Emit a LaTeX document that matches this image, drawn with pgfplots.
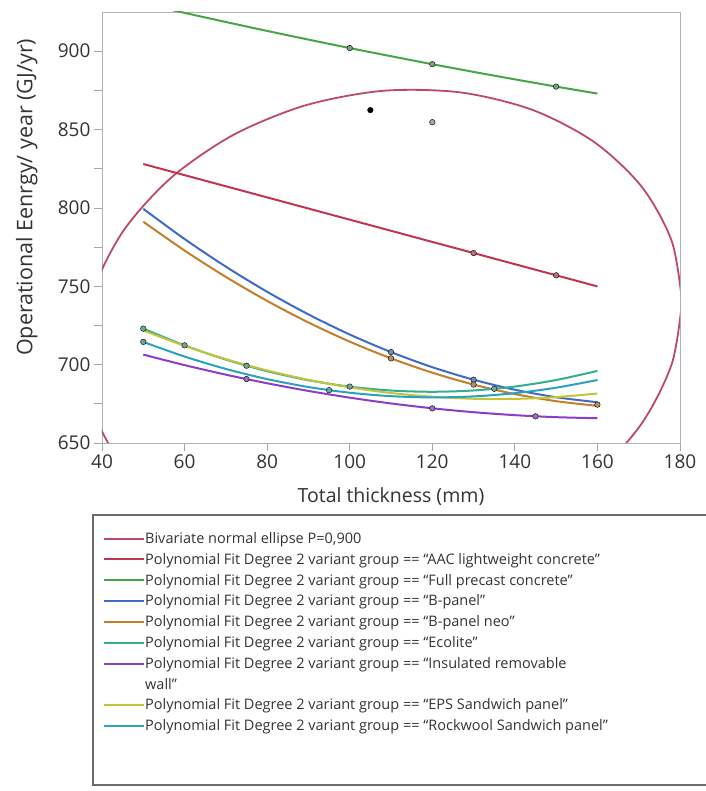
\documentclass[border=0pt]{standalone}
\usepackage{fontspec}
\setmainfont{Open Sans}
\usepackage{pgfplots}
\pgfplotsset{compat=1.18}
\definecolor{ellcol}{HTML}{BC4A64}
\definecolor{aaccol}{HTML}{C23452}
\definecolor{fullcol}{HTML}{46A546}
\definecolor{bpcol}{HTML}{3F6BC4}
\definecolor{bpncol}{HTML}{C47F2B}
\definecolor{ecocol}{HTML}{33AE8E}
\definecolor{inscol}{HTML}{8B3DC9}
\definecolor{epscol}{HTML}{C4C43A}
\definecolor{rockcol}{HTML}{2AA2BE}
\definecolor{txtcol}{HTML}{333333}
\pgfplotsset{
  dmark/.style={forget plot, only marks, mark=*, mark size=2.8pt,
    mark options={draw=none, fill=#1}},
}
\begin{document}
\begin{tikzpicture}
\path[use as bounding box] (-102pt,-348pt) rectangle (603pt,443pt);
\begin{axis}[
  at={(0pt,0pt)}, anchor=south west,
  scale only axis, width=578pt, height=431pt,
  xmin=40, xmax=180, ymin=650, ymax=925,
  xtick={40,60,...,180}, ytick={650,700,...,900},
  minor y tick num=1,
  xtick pos=bottom, ytick pos=left,
  tick align=outside, major tick length=8pt, minor tick length=8pt,
  every tick/.style={color=gray!70, line width=0.8pt},
  axis line style={color=gray!60, line width=0.8pt},
  /pgf/number format/assume math mode=true,
  ticklabel style={font=\fontsize{19}{21}\selectfont, text=txtcol},
  xlabel={Total thickness (mm)},
  ylabel={Operational Eenrgy/ year (GJ/yr)},
  label style={font=\fontsize{19.5}{21}\selectfont, text=txtcol},
  xlabel style={yshift=-12pt},
  ylabel style={at={(axis description cs:-0.13,0.57)}, anchor=center, font=\fontsize{21.5}{23}\selectfont},
  legend cell align=left,
  legend style={at={(axis description cs:0.0017,-0.207)}, anchor=north west,
    draw=none, fill=none, font=\fontsize{14.5}{16}\selectfont, text=txtcol,
    row sep=8.3pt, column sep=0pt, inner sep=0pt,
    nodes={inner sep=0pt}},
  legend image code/.code={\draw[#1,line width=1.8pt] (0pt,0pt) -- (27pt,0pt); \path (0pt,0pt) -- (40pt,0pt);},
]
% Bivariate normal ellipse P=0.900
\addplot[ellcol, smooth, line width=1.8pt] coordinates {
(180.50,740.15) (178.03,778.58) (170.79,813.30) (159.26,841.94) (144.25,862.55)
(126.76,873.71) (108.00,874.70) (89.24,865.41) (71.75,846.49) (56.74,819.24)
(45.21,785.50) (37.97,747.58) (35.50,708.05) (37.97,669.62) (45.21,634.90)
(56.74,606.26) (71.75,585.65) (89.24,574.49) (108.00,573.50) (126.76,582.79)
(144.25,601.71) (159.26,628.96) (170.79,662.70) (178.03,700.62) (180.50,740.15)};
\addlegendentry{Bivariate normal ellipse P=0,900}
% AAC lightweight concrete
\addplot[aaccol, line width=2pt] coordinates {(50,828.0) (80,806.7) (110,785.4) (130,771.2) (150,757.0) (160,749.9)};
\addlegendentry{Polynomial Fit Degree 2 variant group == “AAC lightweight concrete”}
% Full precast concrete
\addplot[fullcol, smooth, line width=2pt] coordinates {(50,930.44) (60,924.44) (70,918.61) (80,912.92) (90,907.38) (100,902.0)
(110,896.78) (120,891.7) (130,886.78) (140,882.02) (150,877.4) (160,872.94)};
\addlegendentry{Polynomial Fit Degree 2 variant group == “Full precast concrete”}
% B-panel
\addplot[bpcol, smooth, line width=2pt] coordinates {(50,799.4) (60,780.16) (70,762.51) (80,746.48) (90,732.04) (100,719.22)
(110,708.0) (120,698.38) (130,690.38) (140,683.98) (150,679.19) (160,676.0)};
\addlegendentry{Polynomial Fit Degree 2 variant group == “B-panel”}
% B-panel neo
\addplot[bpncol, smooth, line width=2pt] coordinates {(50,791.18) (60,772.8) (70,755.96) (80,740.66) (90,726.9) (100,714.68)
(110,704.0) (120,694.86) (130,687.26) (140,681.2) (150,676.68) (160,673.7)};
\addlegendentry{Polynomial Fit Degree 2 variant group == “B-panel neo”}
% Ecolite
\addplot[ecocol, smooth, line width=2pt] coordinates {(50,722.99) (60,712.28) (70,703.21) (80,695.8) (90,690.04) (100,685.94)
(110,683.48) (120,682.68) (130,683.52) (140,686.03) (150,690.18) (160,695.99)};
\addlegendentry{Polynomial Fit Degree 2 variant group == “Ecolite”}
% Insulated removable wall
\addplot[inscol, smooth, line width=2pt] coordinates {(50,706.4) (60,699.7) (70,693.6) (80,688.11) (90,683.22) (100,678.93)
(110,675.23) (120,672.14) (130,669.65) (140,667.76) (150,666.48) (160,665.8)};
\addlegendentry{Polynomial Fit Degree 2 variant group == “Insulated removable}
\addlegendimage{empty legend}
\addlegendentry{wall”}
% EPS Sandwich panel
\addplot[epscol, smooth, line width=2pt] coordinates {(50,721.8) (60,712.0) (70,703.5) (80,696.3) (90,690.3) (100,685.5)
(110,681.9) (120,679.5) (130,678.22) (140,678.15) (150,679.27) (160,681.6)};
\addlegendentry{Polynomial Fit Degree 2 variant group == “EPS Sandwich panel”}
% Rockwool Sandwich panel
\addplot[rockcol, smooth, line width=2pt] coordinates {(50,714.49) (60,705.16) (70,697.25) (80,690.77) (90,685.71) (100,682.08)
(110,679.88) (120,679.09) (130,679.73) (140,681.79) (150,685.28) (160,690.19)};
\addlegendentry{Polynomial Fit Degree 2 variant group == “Rockwool Sandwich panel”}
% data markers
\addplot[dmark=fullcol!50!gray!85!white] coordinates {(100,902.0) (120,891.7) (150,877.4)};
\addplot[dmark=aaccol!50!gray!85!white] coordinates {(130,771.2) (150,757.0)};
\addplot[dmark=bpcol!50!gray!85!white] coordinates {(110,708.0) (130,690.4)};
\addplot[dmark=bpncol!50!gray!85!white] coordinates {(110,704.0) (130,687.3) (160,674.5)};
\addplot[dmark=ecocol!50!gray!85!white] coordinates {(50,723.0) (60,712.3) (75,699.3) (100,686.0) (135,684.6)};
\addplot[dmark=rockcol!50!gray!85!white] coordinates {(50,714.5) (95,683.7)};
\addplot[dmark=inscol!50!gray!85!white] coordinates {(75,690.8) (120,672.1) (145,667.0)};
\addplot[dmark=black] coordinates {(105,862.4)};
\addplot[dmark=gray!70] coordinates {(120,854.7)};
\end{axis}
\draw[line width=1.2pt, color=gray!85!black] (-9pt,-72pt) rectangle (612pt,-342pt);
\end{tikzpicture}
\end{document}
